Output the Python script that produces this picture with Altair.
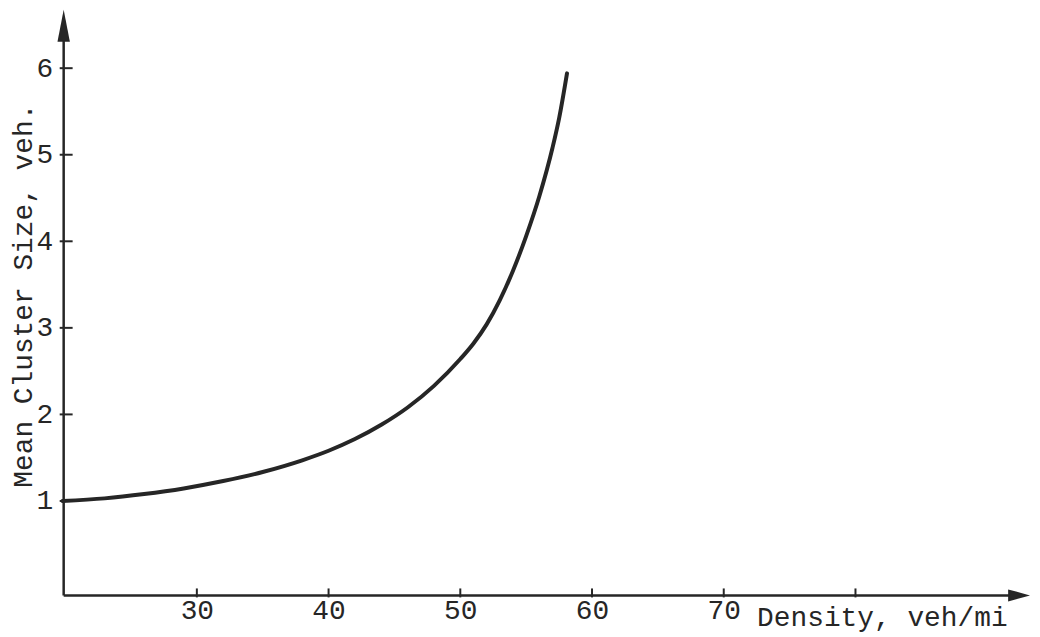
import altair as alt
import pandas as pd

# Curve
density = [19.8, 23.0, 26.0, 29.0, 32.0, 35.0, 38.0, 40.0, 42.0, 44.0, 46.0, 48.0, 50.0, 51.0, 52.0, 53.0, 54.0, 55.0, 56.0, 57.0, 57.5, 58.1]
cluster = [1.00, 1.03, 1.08, 1.145, 1.23, 1.335, 1.47, 1.58, 1.715, 1.88, 2.08, 2.33, 2.64, 2.82, 3.04, 3.32, 3.66, 4.06, 4.52, 5.08, 5.42, 5.94]

x_tick_values = [30, 40, 50, 60, 70, 80]
x_label_values = [30, 40, 50, 60, 70]
y_tick_values = [1, 2, 3, 4, 5, 6]

x_title = "Density, veh/mi"
y_title = "Mean Cluster Size, veh."

W, H = 972, 589
INK = "#262626"
FONT = "Liberation Mono"
FS = 28

curve_df = pd.DataFrame({"density": density, "cluster": cluster})
xt_df = pd.DataFrame({"density": x_tick_values})
yt_df = pd.DataFrame({"cluster": y_tick_values})
one = pd.DataFrame({"a": [0]})

xs = alt.Scale(domain=[19.89, 93.25], nice=False, zero=False)
ys = alt.Scale(domain=[-0.091, 6.674], nice=False, zero=False)

x_axis = alt.Axis(
    values=x_label_values, domain=False, ticks=False, grid=False,
    labelFont=FONT, labelFontSize=FS, labelColor=INK, labelPadding=1,
    labelBaseline="top", labelAlign="center",
    title=x_title, titleFont=FONT, titleFontSize=FS, titleFontWeight="normal",
    titleColor=INK, titleX=697, titleY=30, titleAlign="left",
    titleBaseline="alphabetic", titleAngle=0,
)
y_axis = alt.Axis(
    values=y_tick_values, domain=False, ticks=False, grid=False,
    labelFont=FONT, labelFontSize=FS, labelColor=INK, labelPadding=11,
    labelAlign="right", labelBaseline="middle",
    title=y_title, titleFont=FONT, titleFontSize=FS, titleFontWeight="normal",
    titleColor=INK, titleX=-40, titleY=287, titleAlign="center",
    titleBaseline="middle", titleAngle=270,
)

curve = alt.Chart(curve_df).mark_line(
    color=INK, strokeWidth=4, interpolate="monotone", strokeCap="round"
).encode(
    x=alt.X("density:Q", scale=xs, axis=x_axis),
    y=alt.Y("cluster:Q", scale=ys, axis=y_axis),
    order="density:Q",
)

y_line = alt.Chart(one).mark_rule(color=INK, strokeWidth=2.5).encode(
    x=alt.value(0), y=alt.value(20), y2=alt.value(H)
)
x_line = alt.Chart(one).mark_rule(color=INK, strokeWidth=2.5).encode(
    y=alt.value(H), x=alt.value(0), x2=alt.value(W - 12)
)

x_ticks = alt.Chart(xt_df).mark_rule(color=INK, strokeWidth=2).encode(
    x=alt.X("density:Q", scale=xs, axis=x_axis),
    y=alt.value(H - 7), y2=alt.value(H + 2),
)
y_ticks = alt.Chart(yt_df).mark_rule(color=INK, strokeWidth=2).encode(
    y=alt.Y("cluster:Q", scale=ys, axis=y_axis),
    x=alt.value(-4), x2=alt.value(9),
)

y_arrow = alt.Chart(one).mark_point(
    shape="M0,-1L0.39,1L-0.39,1Z", filled=True, size=1024, color=INK,
    opacity=1, strokeWidth=0,
).encode(x=alt.value(0), y=alt.value(16))
x_arrow = alt.Chart(one).mark_point(
    shape="M1,0L-1,-0.55L-1,0.55Z", filled=True, size=484, color=INK,
    opacity=1, strokeWidth=0,
).encode(x=alt.value(W - 11), y=alt.value(H))

chart = alt.layer(
    curve, y_line, x_line, x_ticks, y_ticks, y_arrow, x_arrow
).properties(
    width=W, height=H,
    autosize=alt.AutoSizeParams(type="none"),
    padding={"left": 56, "top": 0, "right": 2, "bottom": 42},
    background="white",
).configure_view(stroke=None)

chart.save("out.html", embed_options={"renderer": "svg", "actions": False})
